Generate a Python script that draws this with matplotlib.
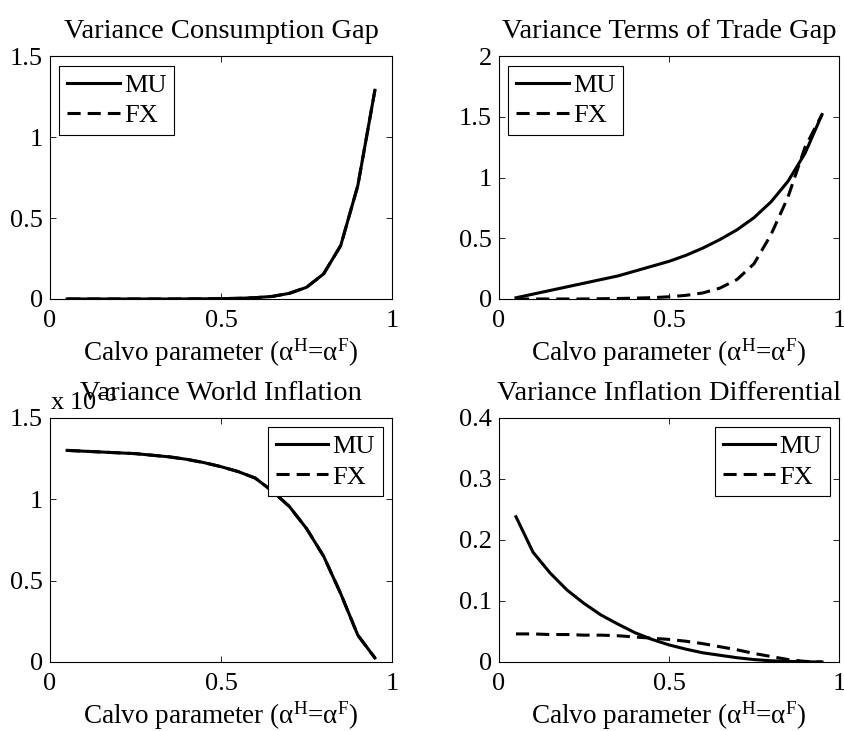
import matplotlib
matplotlib.use('Agg')
import matplotlib.pyplot as plt
import numpy as np
from matplotlib.ticker import FormatStrFormatter

plt.rcParams['font.family'] = ['Liberation Serif', 'DejaVu Serif']
plt.rcParams['mathtext.fontset'] = 'custom'
plt.rcParams['mathtext.rm'] = 'Liberation Serif'
plt.rcParams['mathtext.it'] = 'Liberation Serif:italic'

calvo = [0.05, 0.10, 0.15, 0.20, 0.25, 0.30, 0.35, 0.40, 0.45, 0.50,
         0.55, 0.60, 0.65, 0.70, 0.75, 0.80, 0.85, 0.90, 0.95]

# variance consumption gap (MU and FX coincide)
cons_mu = [0.0, 0.0, 0.0, 0.0, 0.0, 0.0, 0.0, 0.0005, 0.001, 0.002,
           0.004, 0.008, 0.016, 0.035, 0.072, 0.155, 0.33, 0.70, 1.29]
cons_fx = cons_mu

# variance terms of trade gap
tot_mu = [0.01, 0.04, 0.07, 0.10, 0.13, 0.16, 0.19, 0.23, 0.27, 0.31,
          0.36, 0.42, 0.49, 0.57, 0.67, 0.80, 0.97, 1.20, 1.52]
tot_fx = [0.0, 0.0, 0.0, 0.0, 0.0, 0.002, 0.004, 0.007, 0.011, 0.018,
          0.03, 0.05, 0.09, 0.16, 0.29, 0.53, 0.84, 1.25, 1.52]

# variance world inflation (x 1e-3, MU and FX coincide)
world_mu = [1.30, 1.295, 1.29, 1.285, 1.28, 1.27, 1.26, 1.245, 1.225, 1.20,
            1.17, 1.13, 1.05, 0.955, 0.82, 0.65, 0.42, 0.165, 0.025]
world_fx = world_mu

# variance inflation differential
diff_mu = [0.238, 0.18, 0.146, 0.118, 0.096, 0.077, 0.062, 0.048, 0.037, 0.028,
           0.021, 0.015, 0.011, 0.007, 0.004, 0.002, 0.001, 0.0003, 0.0]
diff_fx = [0.046, 0.046, 0.045, 0.045, 0.044, 0.044, 0.043, 0.041, 0.039, 0.037,
           0.034, 0.030, 0.025, 0.020, 0.014, 0.009, 0.004, 0.001, 0.0]

titles = ['Variance Consumption Gap', 'Variance Terms of Trade Gap',
          'Variance World Inflation', 'Variance Inflation Differential']
xlab = r'Calvo parameter (α$^{\rm H}$=α$^{\rm F}$)'

fig = plt.figure(figsize=(8.45, 7.31), dpi=100)
pos = [[0.0592, 0.591, 0.4047, 0.332],
       [0.5905, 0.591, 0.4024, 0.332],
       [0.0592, 0.0944, 0.4047, 0.334],
       [0.5905, 0.0944, 0.4024, 0.334]]
series = [(cons_mu, cons_fx), (tot_mu, tot_fx), (world_mu, world_fx), (diff_mu, diff_fx)]
ylims = [(0, 1.5), (0, 2), (0, 1.5), (0, 0.4)]
yticks = [[0, 0.5, 1, 1.5], [0, 0.5, 1, 1.5, 2], [0, 0.5, 1, 1.5], [0, 0.1, 0.2, 0.3, 0.4]]
legloc = ['upper left', 'upper left', 'upper right', 'upper right']

for i in range(4):
    ax = fig.add_axes(pos[i])
    mu, fx = series[i]
    ax.plot(calvo, mu, color='k', lw=2.2, label='MU')
    ax.plot(calvo, fx, color='k', lw=2.2, dashes=(4.3, 2.3), label='FX')
    ax.set_xlim(0, 1)
    ax.set_ylim(*ylims[i])
    ax.set_xticks([0, 0.5, 1])
    ax.set_yticks(yticks[i])
    ax.xaxis.set_major_formatter(FormatStrFormatter('%g'))
    ax.yaxis.set_major_formatter(FormatStrFormatter('%g'))
    ax.tick_params(direction='in', top=True, right=True, labelsize=19, length=4, width=0.6)
    ax.tick_params(axis='x', pad=8)
    ax.tick_params(axis='y', pad=5)
    for s in ax.spines.values():
        s.set_linewidth(0.8)
    ax.set_title(titles[i], fontsize=20.5, pad=13)
    ax.set_xlabel(xlab, fontsize=19.5, labelpad=3)
    leg = ax.legend(loc=legloc[i], fontsize=19, fancybox=False, edgecolor='k',
                    handlelength=2.0, handletextpad=0.15, borderpad=0.3,
                    labelspacing=0.25, borderaxespad=0.35, framealpha=1)
    leg.get_frame().set_linewidth(0.8)
    if i == 2:
        ax.annotate(r'x 10$^{-3}$', xy=(0, 1), xycoords='axes fraction',
                    xytext=(0, 2), textcoords='offset points', fontsize=19,
                    ha='left', va='bottom')

fig.savefig('out.png', dpi=100)
